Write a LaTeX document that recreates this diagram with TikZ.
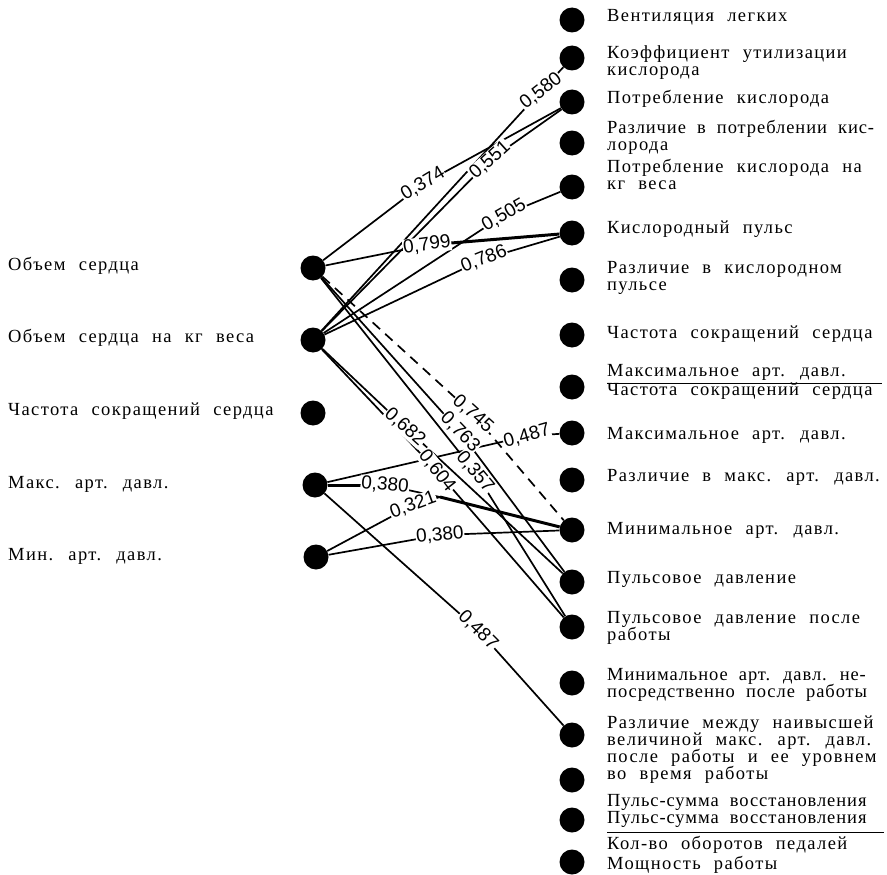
\documentclass[tikz,border=0pt]{standalone}
\usepackage{fontspec}
\setmainfont{Liberation Serif}[LetterSpace=7.5, WordSpace=2.2]
\newfontfamily\numfont{Liberation Sans}
\newfontfamily\tightfont{Liberation Serif}[LetterSpace=5, WordSpace=2.0]
\begin{document}
\begin{tikzpicture}[x=1pt,y=-1pt,
  dot/.style={circle, fill=black, minimum size=25pt, inner sep=0pt},
  txt/.style={anchor=mid west, inner sep=0pt, font=\fontsize{18.5}{17}\selectfont},
  tighttxt/.style={anchor=mid west, inner sep=0pt, font=\tightfont\fontsize{18.5}{17}\selectfont},
  lab/.style={fill=white, inner sep=0.6pt, font=\numfont\fontsize{19}{18}\selectfont},
  conn/.style={line width=1.7pt},
  heavy/.style={line width=3pt},
  dashconn/.style={line width=1.7pt, dash pattern=on 10pt off 7pt},
  rule/.style={line width=0.9pt}]
\useasboundingbox (0,0) rectangle (887,875);

% left dots
\node[dot] (L1) at (313,268) {};
\node[dot] (L2) at (313,340) {};
\node[dot] (L3) at (313,413) {};
\node[dot] (L4) at (315,485) {};
\node[dot] (L5) at (316,557) {};
% right dots
\foreach \n/\y in {1/20,2/58,3/102,4/143,5/187,6/233,7/280,8/335,9/387,10/433,11/480,12/530,13/582,14/627,15/683,16/735,17/780,18/820,19/862}
  \node[dot] (R\n) at (572,\y) {};

% left texts
\node[txt] (tL1) at (8,268) {Объем сердца};
\node[txt] (tL2) at (8,340) {Объем сердца на кг веса};
\node[txt] (tL3) at (8,413) {Частота сокращений сердца};
\node[txt] (tL4) at (8,486) {Макс. арт. давл.};
\node[txt] (tL5) at (8,558) {Мин. арт. давл.};

% right texts
\node[txt] (t1) at (607,19) {Вентиляция легких};
\node[txt] (t2a) at (607,56) {Коэффициент утилизации};
\node[txt] (t2b) at (607,73) {кислорода};
\node[txt] (t3) at (607,101) {Потребление кислорода};
\node[tighttxt] (t4a) at (607,131) {Различие в потреблении кис-};
\node[txt] (t4b) at (607,148) {лорода};
\node[txt] (t5a) at (607,170) {Потребление кислорода на};
\node[txt] (t5b) at (607,187) {кг веса};
\node[txt] (t6) at (607,231) {Кислородный пульс};
\node[txt] (t7a) at (607,271) {Различие в кислородном};
\node[txt] (t7b) at (607,288) {пульсе};
\node[txt] (t8) at (607,336) {Частота сокращений сердца};
\node[txt] (t9a) at (607,374) {Максимальное арт. давл.};
\node[txt] (t9b) at (607,393) {Частота сокращений сердца};
\node[txt] (t10) at (607,437) {Максимальное арт. давл.};
\node[txt] (t11) at (607,479) {Различие в макс. арт. давл.};
\node[txt] (t12) at (607,532) {Минимальное арт. давл.};
\node[txt] (t13) at (607,581) {Пульсовое давление};
\node[txt] (t14a) at (607,621) {Пульсовое давление после};
\node[txt] (t14b) at (607,638) {работы};
\node[tighttxt] (t15a) at (607,678) {Минимальное арт. давл. не-};
\node[tighttxt] (t15b) at (607,695) {посредственно после работы};
\node[txt] (t16a) at (607,726) {Различие между наивысшей};
\node[txt] (t16b) at (607,743) {величиной макс. арт. давл.};
\node[txt] (t16c) at (607,760) {после работы и ее уровнем};
\node[txt] (t16d) at (607,777) {во время работы};
\node[tighttxt] (t17) at (607,804) {Пульс-сумма восстановления};
\node[tighttxt] (t18a) at (607,821) {Пульс-сумма восстановления};
\node[txt] (t18b) at (607,847) {Кол-во оборотов педалей};
\node[txt] (t19) at (607,867) {Мощность работы};
\coordinate (u1a) at (607,383); \coordinate (u1b) at (882,383);
\coordinate (u2a) at (607,832); \coordinate (u2b) at (884,832);
\draw[rule] (u1a) -- (u1b);
\draw[rule] (u2a) -- (u2b);

% label positions
\coordinate (c374) at (423,184);
\coordinate (c580) at (541,91);
\coordinate (c551) at (490,160);
\coordinate (c799) at (427,245);
\coordinate (c505) at (504,215);
\coordinate (c786) at (484,259);
\coordinate (c745) at (473,414);
\coordinate (c763) at (460,432);
\coordinate (c357) at (475,472);
\coordinate (c682) at (405,427);
\coordinate (c604) at (437,471);
\coordinate (c487a) at (527,436);
\coordinate (c380a) at (385,485);
\coordinate (c321) at (413,505);
\coordinate (c380b) at (440,535);
\coordinate (c487b) at (478,630);
\coordinate (j1) at (440,497);

% connectors
\draw[conn] (L1) -- (c374) -- (R3);
\draw[conn] (L2) -- (c580) -- (R2);
\draw[conn] (L2) -- (c551) -- (R3);
\draw[conn] (L1) -- (c799);
\draw[heavy] (c799) -- (R6);
\draw[conn] (L2) -- (c505) -- (R5);
\draw[conn] (L2) -- (c786) -- (R6);
\draw[dashconn] (L1) -- (c745) -- (R12);
\draw[conn] (L1) -- (c763) -- (R13);
\draw[conn] (L1) -- (c357) -- (R14);
\draw[conn] (L2) -- (c682) -- (R13);
\draw[conn] (L2) -- (c604) -- (R14);
\draw[conn] (L4) -- (c487a) -- (R10);
\draw[heavy] (L4) -- (c380a);
\draw[conn] (c380a) -- (j1);
\draw[conn] (L5) -- (c321) -- (j1);
\draw[heavy] (j1) -- (R12);
\draw[conn] (L5) -- (c380b) -- (R12);
\draw[conn] (L4) -- (c487b) -- (R16);

% labels
\node[lab, rotate=31] (n374) at (c374) {0,374};
\node[lab, rotate=38] (n580) at (c580) {0,580};
\node[lab, rotate=42] (n551) at (c551) {0,551};
\node[lab, rotate=8] (n799) at (c799) {0,799};
\node[lab, rotate=30] (n505) at (c505) {0,505};
\node[lab, rotate=22] (n786) at (c786) {0,786};
\node[lab, rotate=-42] (n745) at (c745) {0,745};
\node[lab, rotate=-46] (n763) at (c763) {0,763};
\node[lab, rotate=-50] (n357) at (c357) {0,357};
\node[lab, rotate=-42] (n682) at (c682) {0,682};
\node[lab, rotate=-52] (n604) at (c604) {0,604};
\node[lab, rotate=16] (n487a) at (c487a) {0,487};
\node[lab, rotate=-5] (n380a) at (c380a) {0,380};
\node[lab, rotate=20] (n321) at (c321) {0,321};
\node[lab, rotate=6] (n380b) at (c380b) {0,380};
\node[lab, rotate=-45] (n487b) at (c487b) {0,487};
\end{tikzpicture}
\end{document}
